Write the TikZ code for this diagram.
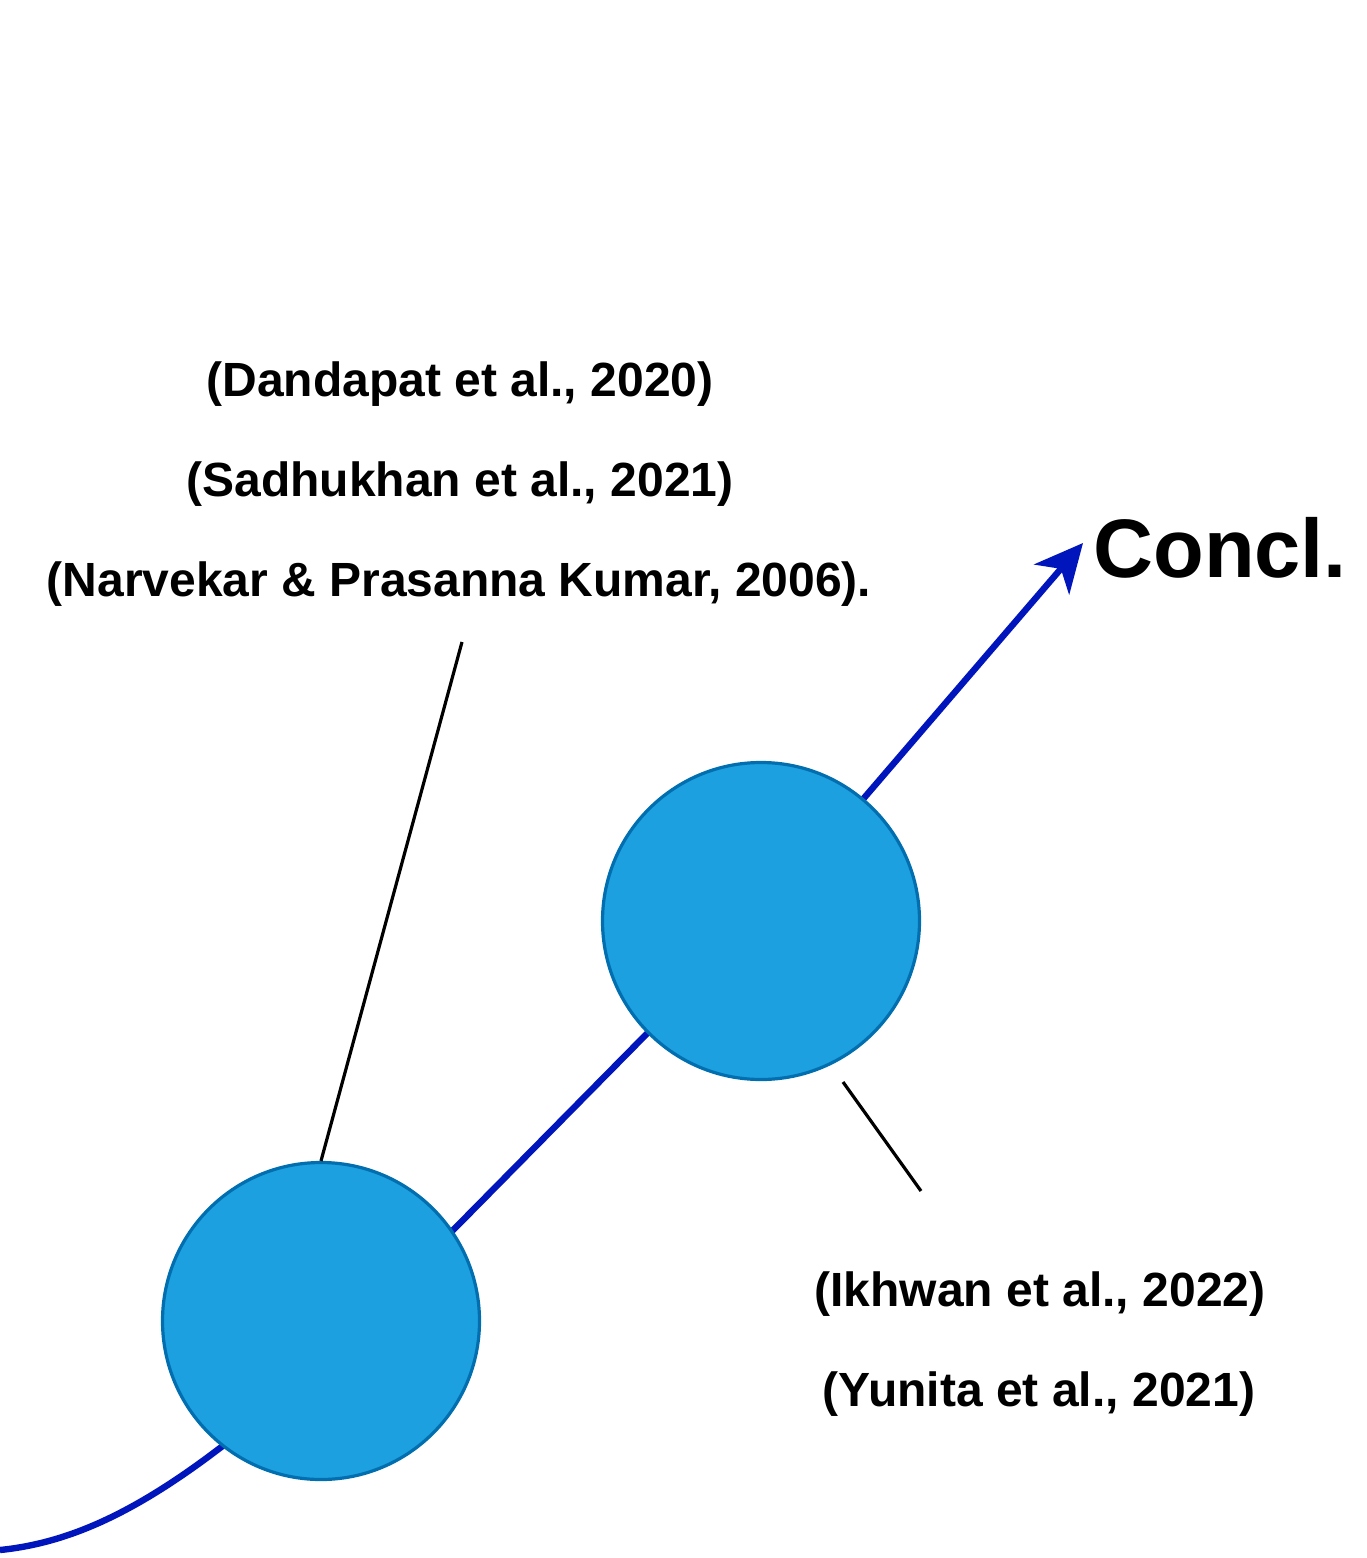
\documentclass[tikz,border=0pt]{standalone}
\usepackage{fontspec}
\setmainfont{Liberation Sans}
\usetikzlibrary{arrows.meta}
\definecolor{pathblue}{RGB}{0,22,188}
\definecolor{circfill}{RGB}{28,160,224}
\definecolor{circedge}{RGB}{0,110,175}
\tikzset{
  stage/.style={circle, draw=circedge, fill=circfill, line width=1.6pt, minimum size=158.5pt, inner sep=0pt},
  cite/.style={font=\fontsize{24pt}{28pt}\selectfont\bfseries, inner sep=0pt, anchor=center},
  leader/.style={draw=black, line width=1.6pt},
  route/.style={draw=pathblue, line width=3.2pt},
}
\begin{document}
\begin{tikzpicture}[x=0.5pt,y=-0.5pt]
\useasboundingbox (0,0) rectangle (1366,1558);
% path coordinates
\coordinate (start) at (0,1550);
\coordinate (bend) at (321,1364);
\coordinate (apex) at (761,918);
\coordinate (tip) at (1083,543);
% blue route
\draw[route] (start) .. controls (100,1540) and (190,1480) .. (bend) -- (apex);
\draw[route, -{Stealth[length=24pt,width=23pt,inset=7pt]}] (apex) -- (tip);
% circles
\node[stage] (c1) at (761,921) {};
\node[stage] (c2) at (321,1321) {};
% texts
\node[cite] (t1) at (460,384) {(Dandapat et al., 2020)};
\node[cite] (t2) at (460,484) {(Sadhukhan et al., 2021)};
\node[cite] (t3) at (459,584) {(Narvekar \& Prasanna Kumar, 2006).};
\node[cite] (t4) at (1040,1294) {(Ikhwan et al., 2022)};
\node[cite] (t5) at (1039,1394) {(Yunita et al., 2021)};
\node[font=\fontsize{41.5pt}{48pt}\selectfont\bfseries, inner sep=0pt, anchor=west] (concl) at (1093,548) {Concl.};
% leaders
\coordinate (l1) at (462,642);
\draw[leader] (l1) -- (c2.north);
\coordinate (l2a) at (843,1082);
\coordinate (l2b) at (921,1191);
\draw[leader] (l2a) -- (l2b);
\end{tikzpicture}
\end{document}
